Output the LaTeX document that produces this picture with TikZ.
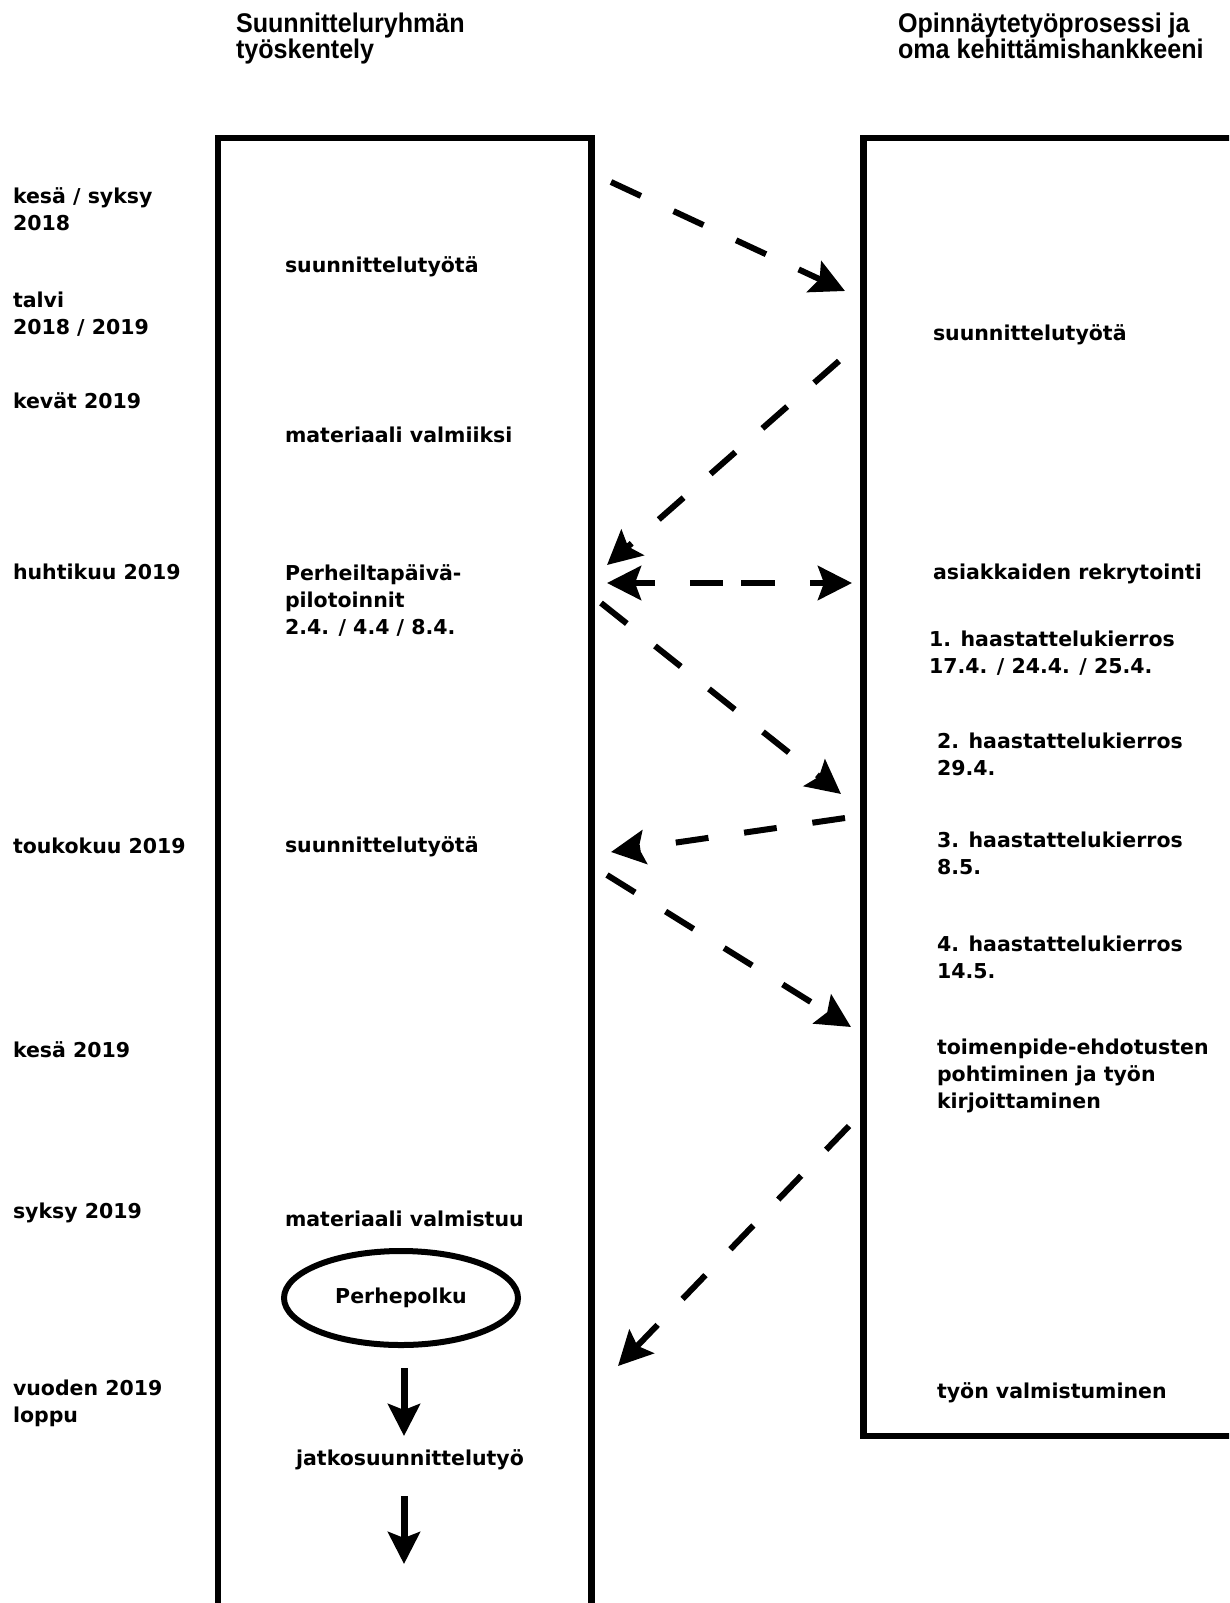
\documentclass[tikz,border=0pt]{standalone}
\usepackage{fontspec}
\setmainfont{DejaVu Sans}
\newfontfamily\headfont{Liberation Sans Bold}[FakeStretch=0.93]
\usetikzlibrary{arrows.meta,shapes.geometric}
\newcommand\bodytext{\fontsize{20.5}{27}\selectfont\bfseries}
\newcommand\headtext{\headfont\fontsize{27}{26}\selectfont}
\begin{document}
\begin{tikzpicture}[x=1pt,y=-1pt,
  lbl/.style={anchor=base west, inner sep=0pt, outer sep=0pt, align=left, font=\bodytext},
  hdr/.style={anchor=base west, inner sep=0pt, outer sep=0pt, align=left, font=\headtext},
  frame/.style={draw, line width=6.5pt, inner sep=0pt, outer sep=0pt, anchor=north west},
  dasharrow/.style={line width=6pt, dash pattern=on 33pt off 36pt,
    -{Stealth[length=34pt,width=34pt,inset=6pt]}},
  solidarrow/.style={line width=7pt, -{Stealth[length=32pt,width=32pt,inset=6pt]}}]
\clip (0,0) rectangle (1229,1603);
\fill[white] (0,0) rectangle (1229,1603);

% frames
\node[frame, minimum width=373.5pt, minimum height=1600pt] (leftbox) at (218,138) {};
\node[frame, minimum width=420pt, minimum height=1298pt] (rightbox) at (863.5,138) {};

% headers (anchor = baseline of the last line)
\node[hdr] (hleft) at (236,59) {Suunnitteluryhmän\\työskentely};
\node[hdr] (hright) at (898,59) {Opinnäytetyöprosessi ja\\oma kehittämishankkeeni};

% time labels
\node[lbl] (t1) at (13,230) {kesä / syksy\\2018};
\node[lbl] (t2) at (13,334) {talvi\\2018 / 2019};
\node[lbl] (t3) at (13,408) {kevät 2019};
\node[lbl] (t4) at (13,579) {huhtikuu 2019};
\node[lbl] (t5) at (13,853) {toukokuu 2019};
\node[lbl] (t6) at (13,1057) {kesä 2019};
\node[lbl] (t7) at (13,1218) {syksy 2019};
\node[lbl] (t8) at (13,1422) {vuoden 2019\\loppu};

% left column
\node[lbl] (s1) at (285,272) {suunnittelutyötä};
\node[lbl] (s2) at (285,442) {materiaali valmiiksi};
\node[lbl] (s3) at (285,634) {Perheiltapäivä-\\pilotoinnit\\2.4. / 4.4 / 8.4.};
\node[lbl] (s4) at (285,852) {suunnittelutyötä};
\node[lbl] (s5) at (285,1226) {materiaali valmistuu};
\node[draw, ellipse, line width=6pt, minimum width=234pt, minimum height=94pt,
  inner sep=0pt, font=\bodytext] (perhe) at (401,1298) {Perhepolku};
\node[font=\bodytext, inner sep=0pt] (jatko) at (410,1460) {jatkosuunnittelutyö};

% right column
\node[lbl] (r1) at (933,340) {suunnittelutyötä};
\node[lbl] (r2) at (933,579) {asiakkaiden rekrytointi};
\node[lbl] (r3) at (929,673) {1. haastattelukierros\\17.4. / 24.4. / 25.4.};
\node[lbl] (r4) at (937,775) {2. haastattelukierros\\29.4.};
\node[lbl] (r5) at (937,874) {3. haastattelukierros\\8.5.};
\node[lbl] (r6) at (937,978) {4. haastattelukierros\\14.5.};
\node[lbl] (r7) at (937,1108) {toimenpide-ehdotusten\\pohtiminen ja työn\\kirjoittaminen};
\node[lbl] (r8) at (937,1398) {työn valmistuminen};

% arrow end points
\coordinate (a1s) at (611,182);  \coordinate (a1e) at (845,291);
\coordinate (a2s) at (839,361);  \coordinate (a2e) at (607,565);
\coordinate (a3s) at (607,583);  \coordinate (a3e) at (852,583);
\coordinate (a4s) at (601,603);  \coordinate (a4e) at (841,794);
\coordinate (a5s) at (845,818);  \coordinate (a5e) at (611,852);
\coordinate (a6s) at (607,875);  \coordinate (a6e) at (851,1027);
\coordinate (a7s) at (849,1126); \coordinate (a7e) at (618,1366);
\coordinate (b1s) at (404,1368); \coordinate (b1e) at (404,1436);
\coordinate (b2s) at (404,1496); \coordinate (b2e) at (404,1564);

\draw[dasharrow] (a1s) -- (a1e);
\draw[dasharrow] (a2s) -- (a2e);
\draw[dasharrow, {Stealth[length=34pt,width=34pt,inset=6pt]}-{Stealth[length=34pt,width=34pt,inset=6pt]},
  dash pattern=on 22pt off 35pt on 33pt off 18pt on 34pt off 35pt on 60pt] (a3s) -- (a3e);
\draw[dasharrow] (a4s) -- (a4e);
\draw[dasharrow] (a5s) -- (a5e);
\draw[dasharrow] (a6s) -- (a6e);
\draw[dasharrow] (a7s) -- (a7e);
\draw[solidarrow] (b1s) -- (b1e);
\draw[solidarrow] (b2s) -- (b2e);
\end{tikzpicture}
\end{document}
